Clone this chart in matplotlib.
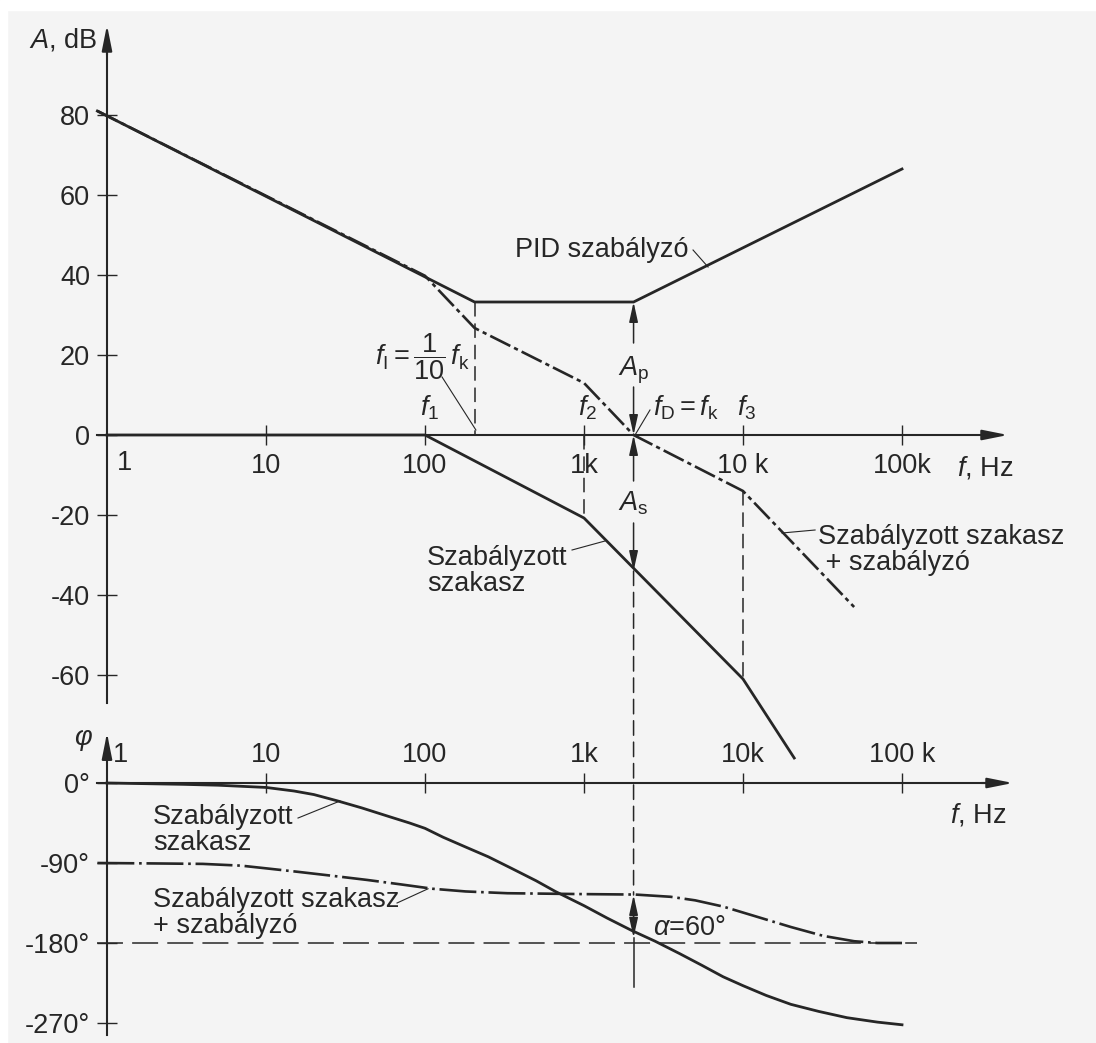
import matplotlib.pyplot as plt
from matplotlib.patches import ConnectionPatch, Rectangle
from matplotlib.ticker import NullLocator

plt.rcParams['font.family'] = ['Liberation Sans', 'DejaVu Sans']
plt.rcParams['font.size'] = 19.5
plt.rcParams['axes.unicode_minus'] = False
plt.rcParams['mathtext.fontset'] = 'custom'
plt.rcParams['mathtext.rm'] = 'Liberation Sans'
plt.rcParams['mathtext.it'] = 'Liberation Sans:italic'
plt.rcParams['mathtext.bf'] = 'Liberation Sans:bold'

ink = '#262626'
paper = '#f4f4f4'

# amplitude plot, dB (break points)
f_pid = [0.87, 205, 2050, 100000]
a_pid = [81, 33.25, 33.25, 66.5]

f_sum = [0.87, 100, 205, 1000, 2050, 10000, 50000]
a_sum = [81, 39.8, 26.75, 13, 0, -14, -43]

f_plant = [1, 100, 1000, 10000, 21000]
a_plant = [0, 0, -20.75, -61, -80.75]

# phase plot, degrees
f_ph_plant = [1, 3, 5, 10, 15, 20, 28, 40, 60, 80, 100, 130, 180, 250, 350, 500,
              660, 1000, 1400, 2000, 2800, 4000, 5500, 7500, 10000, 14000, 20000,
              30000, 45000, 70000, 100000]
p_ph_plant = [0, -1.5, -2.5, -5, -9, -13, -20, -28, -38, -45, -51, -61, -72, -83,
              -96, -110, -122, -138, -152, -166, -178, -192, -205, -218, -228,
              -239, -249, -257, -264, -269, -272]

f_ph_sum = [0.87, 2, 4, 7, 10, 16, 25, 43, 70, 112, 180, 330, 1000, 2100, 3500,
            5000, 7500, 12000, 20000, 32000, 50000, 70000, 100000]
p_ph_sum = [-90, -90.5, -91, -93, -96, -100, -104, -109, -114, -119, -122, -124,
            -125, -125.5, -128, -132, -139, -150, -162, -172, -178, -180, -180]

dec_ticks = [10, 100, 1000, 10000, 100000]
amp_xlabels = ['10', '100', '1k', '10 k', '100k']
ph_xlabels = ['10', '100', '1k', '10k', '100 k']
amp_ticks = [80, 60, 40, 20, 0, -20, -40, -60]
ph_ticks = [0, -90, -180, -270]
ph_labels = ['0°', '-90°', '-180°', '-270°']

fk = 2050
fI = 205

fig = plt.figure(figsize=(10.96, 10.43), dpi=100, facecolor=paper)
fig.patches.append(Rectangle((0, 0.99), 1, 0.01, transform=fig.transFigure,
                             color='white', zorder=0))
fig.patches.append(Rectangle((0, 0), 0.0065, 1, transform=fig.transFigure,
                             color='white', zorder=0))

xlim = (10 ** (-107 / 159), 10 ** (989 / 159))

ax = fig.add_axes([0, 0, 1, 1])
ax.set_facecolor('none')
ax.set_xscale('log')
ax.set_xlim(*xlim)
ax.set_ylim((435 - 1043) / 4, 435 / 4)

ph = fig.add_axes([0, 0, 1, 1])
ph.set_facecolor('none')
ph.set_xscale('log')
ph.set_xlim(*xlim)
ph.set_ylim((783 - 1043) / 0.8889, 783 / 0.8889)

arrow_kw = dict(arrowstyle='-|>,head_length=1.1,head_width=0.22', color=ink,
                lw=1.5, mutation_scale=14, shrinkA=0, shrinkB=0)
small_arrow = dict(arrowstyle='-|>,head_length=1.0,head_width=0.22', color=ink,
                   lw=1.1, mutation_scale=12, shrinkA=0, shrinkB=0)

# ---- amplitude axes
for s in ['top', 'right']:
    ax.spines[s].set_visible(False)
ax.spines['left'].set_position(('data', 1))
ax.spines['bottom'].set_position(('data', 0))
ax.spines['left'].set_bounds(-67, 97)
ax.spines['bottom'].set_bounds(0.87, 10 ** 5.55)
for s in ['left', 'bottom']:
    ax.spines[s].set_linewidth(1.5)
    ax.spines[s].set_color(ink)
ax.set_xticks(dec_ticks, amp_xlabels)
ax.xaxis.set_minor_locator(NullLocator())
ax.set_yticks(amp_ticks, [str(v) for v in amp_ticks])
ax.tick_params(direction='inout', length=14.5, width=1.0, color=ink,
               labelcolor=ink)
ax.tick_params(axis='x', pad=6)
ax.tick_params(axis='y', pad=5)
ax.annotate('', xy=(1, 102.5), xytext=(1, 95), arrowprops=arrow_kw)
ax.annotate('', xy=(10 ** (901 / 159), 0), xytext=(10 ** 5.5, 0), arrowprops=arrow_kw)

ax.plot(f_pid, a_pid, color=ink, lw=2.0, solid_joinstyle='miter')
ax.plot(f_sum, a_sum, color=ink, lw=1.9, dashes=(8.5, 1.6, 1.6, 1.6))
ax.plot(f_plant, a_plant, color=ink, lw=2.0)

dash_thin = dict(color=ink, lw=1.1, dashes=(9.5, 4.5))
ax.plot([fI, fI], [33.25, 0], **dash_thin)
ax.plot([1000, 1000], [0, -20.75], **dash_thin)
ax.plot([10000, 10000], [-14, -61], **dash_thin)

# A_p and A_s arrows
ax.annotate('', xy=(fk, 33.25), xytext=(fk, 23), arrowprops=small_arrow)
ax.annotate('', xy=(fk, 0), xytext=(fk, 12), arrowprops=small_arrow)
ax.annotate('', xy=(fk, 0), xytext=(fk, -11.5), arrowprops=small_arrow)
ax.annotate('', xy=(fk, -34), xytext=(fk, -22), arrowprops=small_arrow)
ax.text(fk, 16.25, r'$A_\mathrm{p}$', ha='center', va='center', color=ink)
ax.text(fk, -17, r'$A_\mathrm{s}$', ha='center', va='center', color=ink)

ax.text(0.865, 98.75, r'$A$, dB', ha='right', va='center', color=ink)
ax.text(1.156, -7, '1', ha='left', va='center', color=ink)
ax.text(10 ** 5.346, -8.25, r'$f$, Hz', ha='left', va='center', color=ink)
ax.text(107, 6.75, r'$f_1$', ha='center', va='center', color=ink)
ax.text(1059, 6.75, r'$f_2$', ha='center', va='center', color=ink)
ax.text(10600, 6.75, r'$f_3$', ha='center', va='center', color=ink)
ax.text(2717, 6.75, r'$f_\mathrm{D}=f_\mathrm{k}$', ha='left', va='center', color=ink)
ax.plot([2600, 2094], [6.25, 0], color=ink, lw=0.8)
ax.text(95.7, 19.5, r'$f_\mathrm{I}=\dfrac{1}{10}\,f_\mathrm{k}$', ha='center',
        va='center', color=ink)
ax.plot([128, 209], [14.5, 1.25], color=ink, lw=0.8)

ax.text(4510, 46.25, 'PID szabályzó', ha='right', va='center', color=ink)
ax.plot([4850, 6030], [46.25, 42], color=ink, lw=0.8)
ax.text(103, -34, 'Szabályzott\nszakasz', ha='left', va='center',
        linespacing=1.0, color=ink)
ax.plot([841, 1355], [-28.75, -26.5], color=ink, lw=0.8)
ax.text(29600, -28.75, 'Szabályzott szakasz\n + szabályzó', ha='left',
        va='center', linespacing=1.0, color=ink)
ax.plot([28400, 17600], [-23.75, -24.5], color=ink, lw=0.8)

# ---- phase axes
ph.spines['right'].set_visible(False)
ph.spines['bottom'].set_visible(False)
ph.spines['left'].set_position(('data', 1))
ph.spines['top'].set_position(('data', 0))
ph.spines['left'].set_bounds(-283, 50)
ph.spines['top'].set_bounds(0.87, 10 ** 5.58)
for s in ['left', 'top']:
    ph.spines[s].set_linewidth(1.5)
    ph.spines[s].set_color(ink)
ph.xaxis.tick_top()
ph.set_xticks(dec_ticks, ph_xlabels)
ph.xaxis.set_minor_locator(NullLocator())
ph.set_yticks(ph_ticks, ph_labels)
ph.tick_params(direction='inout', length=15, width=1.0, color=ink,
               labelcolor=ink)
ph.tick_params(axis='x', pad=3)
ph.tick_params(axis='y', pad=5)
ph.annotate('', xy=(1, 56), xytext=(1, 45), arrowprops=arrow_kw)
ph.annotate('', xy=(10 ** (906 / 159), 0), xytext=(10 ** 5.5, 0), arrowprops=arrow_kw)

ph.plot([0.87, 10 ** (810 / 159)], [-180, -180], color=ink, lw=1.1, dashes=(17, 6))
ph.plot(f_ph_plant, p_ph_plant, color=ink, lw=2.0)
ph.plot(f_ph_sum, p_ph_sum, color=ink, lw=1.9, dashes=(14, 1.8, 1.0, 1.8))

ph.annotate('', xy=(fk, -126), xytext=(fk, -150), arrowprops=small_arrow)
ph.annotate('', xy=(fk, -174), xytext=(fk, -150), arrowprops=small_arrow)
ph.plot([fk, fk], [-174, -230], color=ink, lw=1.1)
ph.text(2717, -163, r'$\alpha$=60°', ha='left', va='center', color=ink)

ph.text(0.707, 48.4, r'$\varphi$', ha='center', va='center', color=ink)
ph.text(1.09, 31.5, '1', ha='left', va='center', color=ink)
ph.text(10 ** 5.302, -36, r'$f$, Hz', ha='left', va='center', color=ink)
ph.text(1.95, -52.9, 'Szabályzott\nszakasz', ha='left', va='center',
        linespacing=1.0, color=ink)
ph.plot([15.9, 29.2], [-39.4, -20.25], color=ink, lw=0.8)
ph.text(1.95, -146, 'Szabályzott szakasz\n+ szabályzó', ha='left', va='center',
        linespacing=1.0, color=ink)
ph.plot([66.7, 104.5], [-135, -119], color=ink, lw=0.8)

# dashed marker line at f_k, running from the amplitude plot down to the phase plot
con = ConnectionPatch(xyA=(fk, -34), coordsA=ax.transData,
                      xyB=(fk, -126), coordsB=ph.transData,
                      color=ink, lw=1.1, linestyle=(0, (9.5, 4.5)))
fig.add_artist(con)

plt.savefig('out.png', dpi=100, facecolor=paper)
